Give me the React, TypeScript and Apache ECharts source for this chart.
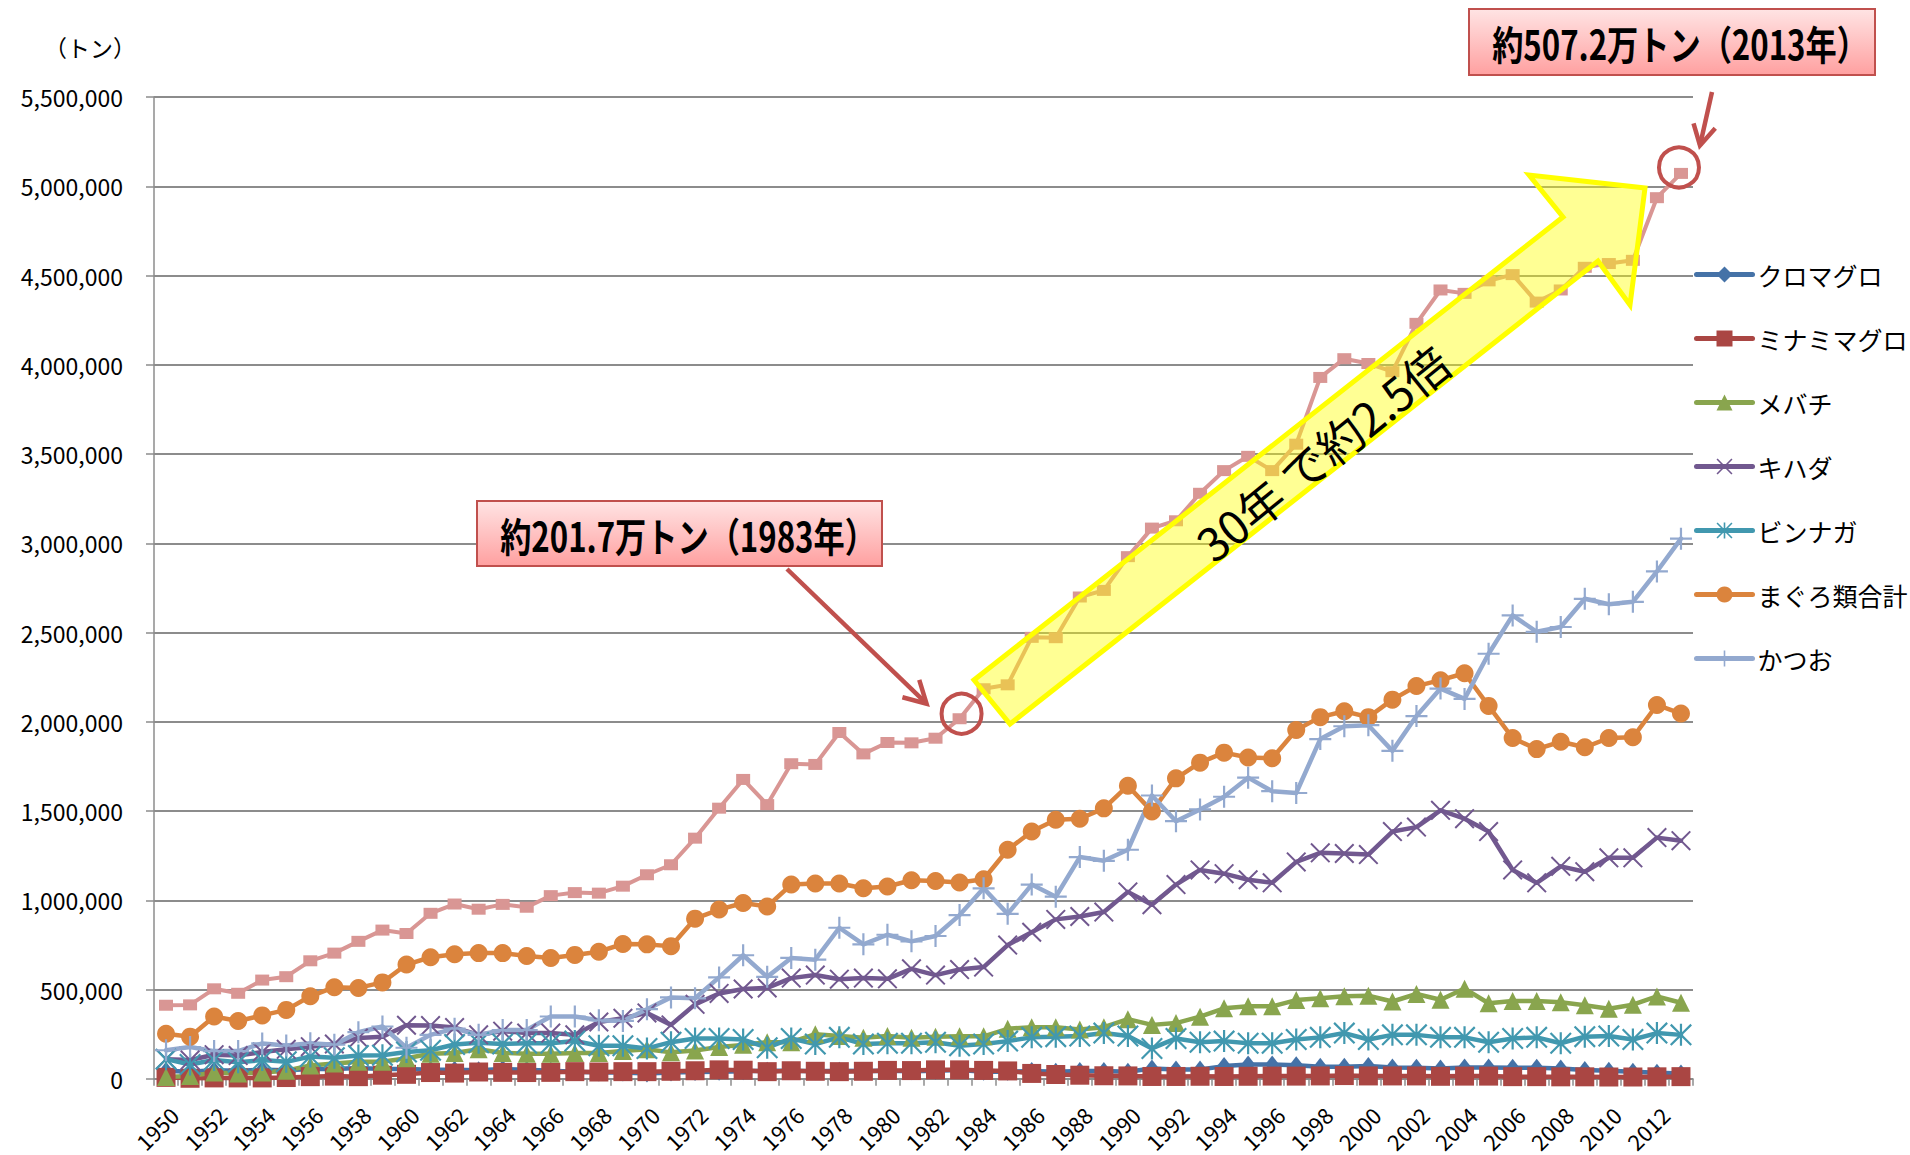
import React, { useEffect, useRef } from "react";
import * as echarts from "echarts";

const years = [
  "1950","1951","1952","1953","1954","1955","1956","1957","1958","1959",
  "1960","1961","1962","1963","1964","1965","1966","1967","1968","1969",
  "1970","1971","1972","1973","1974","1975","1976","1977","1978","1979",
  "1980","1981","1982","1983","1984","1985","1986","1987","1988","1989",
  "1990","1991","1992","1993","1994","1995","1996","1997","1998","1999",
  "2000","2001","2002","2003","2004","2005","2006","2007","2008","2009",
  "2010","2011","2012","2013",
];

const kuromaguro = [
  45000, 40000, 48000, 45000, 50000, 48000, 55000, 55000, 60000, 55000,
  55000, 50000, 50000, 48000, 55000, 50000, 45000, 40000, 35000, 35000,
  30000, 35000, 38000, 40000, 42000, 45000, 45000, 42000, 45000, 44000,
  45000, 42000, 45000, 49000, 40000, 40000, 44000, 40000, 44000, 44000,
  40000, 58000, 52000, 52000, 71000, 80000, 80000, 76000, 67000, 67000,
  71000, 63000, 62000, 58000, 63000, 63000, 62000, 62000, 58000, 49000,
  45000, 39000, 34000, 30000,
];

const minamimaguro = [
  8000, 3000, 5000, 5000, 5000, 7000, 12000, 15000, 12000, 20000,
  25000, 35000, 32000, 38000, 36000, 35000, 36000, 40000, 38000, 40000,
  40000, 42000, 45000, 50000, 48000, 40000, 45000, 42000, 40000, 42000,
  47000, 46000, 50000, 50000, 47000, 44000, 30000, 24000, 20000, 17000,
  16000, 13000, 13000, 14000, 13000, 14000, 15000, 15000, 16000, 18000,
  16000, 16000, 16000, 14000, 15000, 15000, 12000, 12000, 11000, 11000,
  10000, 10000, 11000, 12000,
];

const mebachi = [
  10000, 15000, 35000, 30000, 35000, 45000, 75000, 85000, 95000, 95000,
  115000, 140000, 145000, 165000, 145000, 140000, 140000, 145000, 145000, 155000,
  165000, 148000, 158000, 178000, 190000, 205000, 205000, 250000, 240000, 230000,
  240000, 230000, 236000, 238000, 238000, 280000, 289000, 289000, 276000, 289000,
  334000, 302000, 312000, 348000, 395000, 406000, 406000, 441000, 451000, 462000,
  465000, 433000, 475000, 443000, 505000, 423000, 436000, 436000, 429000, 412000,
  392000, 415000, 461000, 426000,
];

const kihada = [
  110000, 105000, 135000, 130000, 150000, 165000, 180000, 195000, 228000, 236000,
  300000, 298000, 287000, 246000, 267000, 256000, 256000, 246000, 318000, 339000,
  369000, 302000, 417000, 478000, 503000, 509000, 564000, 581000, 558000, 564000,
  560000, 616000, 581000, 612000, 626000, 749000, 821000, 893000, 909000, 934000,
  1047000, 975000, 1088000, 1170000, 1149000, 1115000, 1098000, 1215000, 1266000, 1262000,
  1256000, 1385000, 1410000, 1504000, 1457000, 1385000, 1170000, 1098000, 1190000, 1160000,
  1238000, 1238000, 1351000, 1334000,
];

const binnaga = [
  110000, 80000, 105000, 92000, 105000, 95000, 125000, 118000, 130000, 132000,
  150000, 160000, 192000, 202000, 195000, 199000, 199000, 212000, 185000, 185000,
  170000, 205000, 226000, 226000, 220000, 174000, 226000, 195000, 232000, 195000,
  199000, 199000, 205000, 185000, 195000, 211000, 232000, 236000, 240000, 256000,
  240000, 170000, 226000, 205000, 211000, 199000, 199000, 220000, 232000, 256000,
  220000, 246000, 246000, 232000, 232000, 205000, 226000, 232000, 199000, 236000,
  240000, 220000, 256000, 246000,
];

const magurorui = [
  252000, 236000, 349000, 324000, 355000, 386000, 462000, 513000, 509000, 540000,
  640000, 681000, 698000, 704000, 704000, 688000, 677000, 694000, 712000, 755000,
  753000, 743000, 897000, 948000, 985000, 965000, 1088000, 1094000, 1094000, 1067000,
  1077000, 1112000, 1108000, 1100000, 1118000, 1283000, 1385000, 1451000, 1457000, 1515000,
  1642000, 1498000, 1683000, 1771000, 1827000, 1800000, 1796000, 1954000, 2026000, 2059000,
  2026000, 2124000, 2200000, 2233000, 2272000, 2089000, 1909000, 1847000, 1888000, 1857000,
  1909000, 1913000, 2094000, 2046000,
];

const katsuo = [
  160000, 178000, 155000, 155000, 198000, 186000, 199000, 191000, 261000, 293000,
  174000, 246000, 281000, 246000, 273000, 273000, 349000, 349000, 328000, 324000,
  390000, 456000, 451000, 568000, 692000, 571000, 677000, 667000, 846000, 753000,
  807000, 770000, 800000, 917000, 1067000, 924000, 1088000, 1020000, 1242000, 1221000,
  1283000, 1587000, 1443000, 1509000, 1580000, 1687000, 1611000, 1601000, 1903000, 1975000,
  1981000, 1837000, 2032000, 2186000, 2128000, 2381000, 2596000, 2504000, 2531000, 2689000,
  2658000, 2672000, 2842000, 3026000,
];

const goukei = [
  412000, 414000, 504000, 479000, 553000, 572000, 661000, 704000, 770000, 833000,
  814000, 927000, 979000, 950000, 977000, 961000, 1026000, 1043000, 1040000, 1079000,
  1143000, 1199000, 1348000, 1516000, 1677000, 1536000, 1765000, 1761000, 1940000, 1820000,
  1884000, 1882000, 1908000, 2017000, 2185000, 2207000, 2473000, 2471000, 2699000, 2736000,
  2925000, 3085000, 3126000, 3280000, 3407000, 3487000, 3407000, 3555000, 3929000, 4034000,
  4007000, 3961000, 4232000, 4419000, 4400000, 4470000, 4505000, 4351000, 4419000, 4546000,
  4567000, 4585000, 4936000, 5072000,
];

const legendNames = ["クロマグロ", "ミナミマグロ", "メバチ", "キハダ", "ビンナガ", "まぐろ類合計", "かつお"];
const note1983 = "約201.7万トン（1983年）";
const note2013 = "約507.2万トン（2013年）";
const arrowText = "30年 で約2.5倍";
const unitLabel = "（トン）";

const FONT = '"Noto Sans CJK JP", "Noto Sans", sans-serif';

const X_PATH = "path://M0,1.4 L1.4,0 L10,8.6 L18.6,0 L20,1.4 L11.4,10 L20,18.6 L18.6,20 L10,11.4 L1.4,20 L0,18.6 L8.6,10 Z";
const STAR_PATH = X_PATH + " M9,0 L11,0 L11,20 L9,20 Z";
const PLUS_PATH = "path://M9,0 L11,0 L11,9 L20,9 L20,11 L11,11 L11,20 L9,20 L9,11 L0,11 L0,9 L9,9 Z";

function mk(name: string, data: number[], color: string, symbol: string, size: any, width: number) {
  return {
    type: "line",
    name,
    data,
    symbol,
    symbolSize: size,
    showSymbol: true,
    showAllSymbol: true,
    lineStyle: { color, width, cap: "round", join: "round" },
    itemStyle: { color, opacity: 1 },
    emphasis: { disabled: true },
    silent: true,
  };
}

function head(tx: number, ty: number, fx: number, fy: number, len: number, angDeg: number) {
  const a = Math.atan2(ty - fy, tx - fx);
  const ang = (angDeg * Math.PI) / 180;
  return [
    [tx - len * Math.cos(a - ang), ty - len * Math.sin(a - ang)],
    [tx, ty],
    [tx - len * Math.cos(a + ang), ty - len * Math.sin(a + ang)],
  ];
}

export default function App() {
  const ref = useRef<HTMLDivElement>(null);

  useEffect(() => {
    document.body.style.margin = "0";
    const chart = echarts.init(ref.current!, undefined, { renderer: "svg" });
    const RED = "#C0504D";
    chart.setOption({
      animation: false,
      backgroundColor: "#ffffff",
      textStyle: { fontFamily: FONT },
      grid: { left: 154, right: 217, top: 97, bottom: 75, containLabel: false },
      legend: {
        data: legendNames,
        orient: "vertical",
        left: 1694,
        top: 262,
        itemWidth: 56,
        itemHeight: 20,
        itemGap: 39,
        padding: 0,
        selectedMode: false,
        lineStyle: { width: 5, cap: "round" },
        textStyle: { fontSize: 25, color: "#000", fontFamily: FONT },
      },
      xAxis: {
        type: "category",
        data: years,
        boundaryGap: true,
        axisLine: { show: true, lineStyle: { color: "#8c8c8c", width: 1.5 } },
        axisTick: { show: true, interval: 0, length: 7, lineStyle: { color: "#8c8c8c", width: 1.5 } },
        axisLabel: {
          interval: 1,
          rotate: 45,
          align: "right",
          verticalAlign: "top",
          fontSize: 22,
          color: "#000",
          margin: 24,
          fontFamily: FONT,
        },
        splitLine: { show: false },
      },
      yAxis: {
        type: "value",
        min: 0,
        max: 5500000,
        interval: 500000,
        axisLine: { show: true, lineStyle: { color: "#8c8c8c", width: 1.5 } },
        axisTick: { show: true, length: 8, lineStyle: { color: "#8c8c8c", width: 1.5 } },
        axisLabel: {
          fontSize: 23,
          color: "#000",
          margin: 31,
          fontFamily: FONT,
          formatter: (v: number) => v.toLocaleString("en-US"),
        },
        splitLine: { show: true, lineStyle: { color: "#8c8c8c", width: 2 } },
      },
      series: [
        mk("クロマグロ", kuromaguro, "#4572A7", "diamond", [14, 18], 4.5),
        mk("ミナミマグロ", minamimaguro, "#AA4643", "rect", 19, 4.5),
        mk("メバチ", mebachi, "#89A54E", "triangle", 18, 4.5),
        mk("キハダ", kihada, "#71588F", X_PATH, 20, 4.5),
        mk("ビンナガ", binnaga, "#4198AF", STAR_PATH, 22, 4.5),
        mk("まぐろ類合計", magurorui, "#DB843D", "circle", 18, 4.5),
        mk("かつお", katsuo, "#93A9CF", PLUS_PATH, 22, 4.5),
        mk("まぐろ類・かつお合計", goukei, "#D99694", "rect", [14, 11], 4),
      ],
    });

    const p83 = chart.convertToPixel({ gridIndex: 0 }, [33, goukei[33]]) as number[];
    const p13 = chart.convertToPixel({ gridIndex: 0 }, [63, goukei[63]]) as number[];

    const boxFill = {
      type: "linear",
      x: 0, y: 0, x2: 0, y2: 1,
      colorStops: [
        { offset: 0, color: "#FFE4E4" },
        { offset: 1, color: "#FFA0A0" },
      ],
    };

    const a1from = [787, 569];
    const a1tip = [p83[0] - 33, p83[1] - 15];
    const a2from = [1712, 92];
    const a2tip = [p13[0] + 19, p13[1] - 28];

    chart.setOption({
      graphic: [
        {
          type: "text", x: 90, y: 47, z: 100,
          style: { text: unitLabel, font: `23px ${FONT}`, fill: "#000", textAlign: "center", textVerticalAlign: "middle" },
        },
        {
          type: "polygon", z: 100,
          shape: {
            points: [
              [974, 680], [1010, 724], [1598, 261], [1630, 305], [1645, 188], [1529, 175], [1563, 217],
            ],
          },
          style: { fill: "rgba(255,255,0,0.42)", stroke: "#FFFF00", lineWidth: 5, lineJoin: "miter" },
        },
        {
          type: "text", x: 1322, y: 452, z: 101, rotation: (39 * Math.PI) / 180,
          style: { text: arrowText, font: `46px ${FONT}`, fill: "#000", textAlign: "center", textVerticalAlign: "middle" },
        },
        {
          type: "rect", z: 100,
          shape: { x: 477, y: 501, width: 405, height: 65 },
          style: { fill: boxFill, stroke: RED, lineWidth: 2 },
        },
        {
          type: "text", x: 688, y: 534, z: 101, scaleX: 0.78,
          style: { text: note1983, font: `bold 40px ${FONT}`, fill: "#000", textAlign: "center", textVerticalAlign: "middle" },
        },
        {
          type: "line", z: 100,
          shape: { x1: a1from[0], y1: a1from[1], x2: a1tip[0], y2: a1tip[1] },
          style: { stroke: RED, lineWidth: 4.5 },
        },
        {
          type: "polyline", z: 100,
          shape: { points: head(a1tip[0], a1tip[1], a1from[0], a1from[1], 25, 29) },
          style: { stroke: RED, lineWidth: 4.5, fill: null, lineJoin: "miter" },
        },
        {
          type: "circle", z: 100,
          shape: { cx: p83[0] + 2, cy: p83[1] - 5, r: 20 },
          style: { fill: null, stroke: RED, lineWidth: 4 },
        },
        {
          type: "rect", z: 100,
          shape: { x: 1469, y: 9, width: 406, height: 66 },
          style: { fill: boxFill, stroke: RED, lineWidth: 2 },
        },
        {
          type: "text", x: 1680, y: 42, z: 101, scaleX: 0.78,
          style: { text: note2013, font: `bold 40px ${FONT}`, fill: "#000", textAlign: "center", textVerticalAlign: "middle" },
        },
        {
          type: "line", z: 100,
          shape: { x1: a2from[0], y1: a2from[1], x2: a2tip[0], y2: a2tip[1] },
          style: { stroke: RED, lineWidth: 4.5 },
        },
        {
          type: "polyline", z: 100,
          shape: { points: head(a2tip[0], a2tip[1], a2from[0], a2from[1], 23, 29) },
          style: { stroke: RED, lineWidth: 4.5, fill: null, lineJoin: "miter" },
        },
        {
          type: "circle", z: 100,
          shape: { cx: p13[0] - 2, cy: p13[1] - 6, r: 20 },
          style: { fill: null, stroke: RED, lineWidth: 4 },
        },
      ],
    });

    return () => chart.dispose();
  }, []);

  return (
    <div
      ref={ref}
      style={{ position: "fixed", left: 0, top: 0, width: 1910, height: 1155, background: "#fff" }}
    />
  );
}
